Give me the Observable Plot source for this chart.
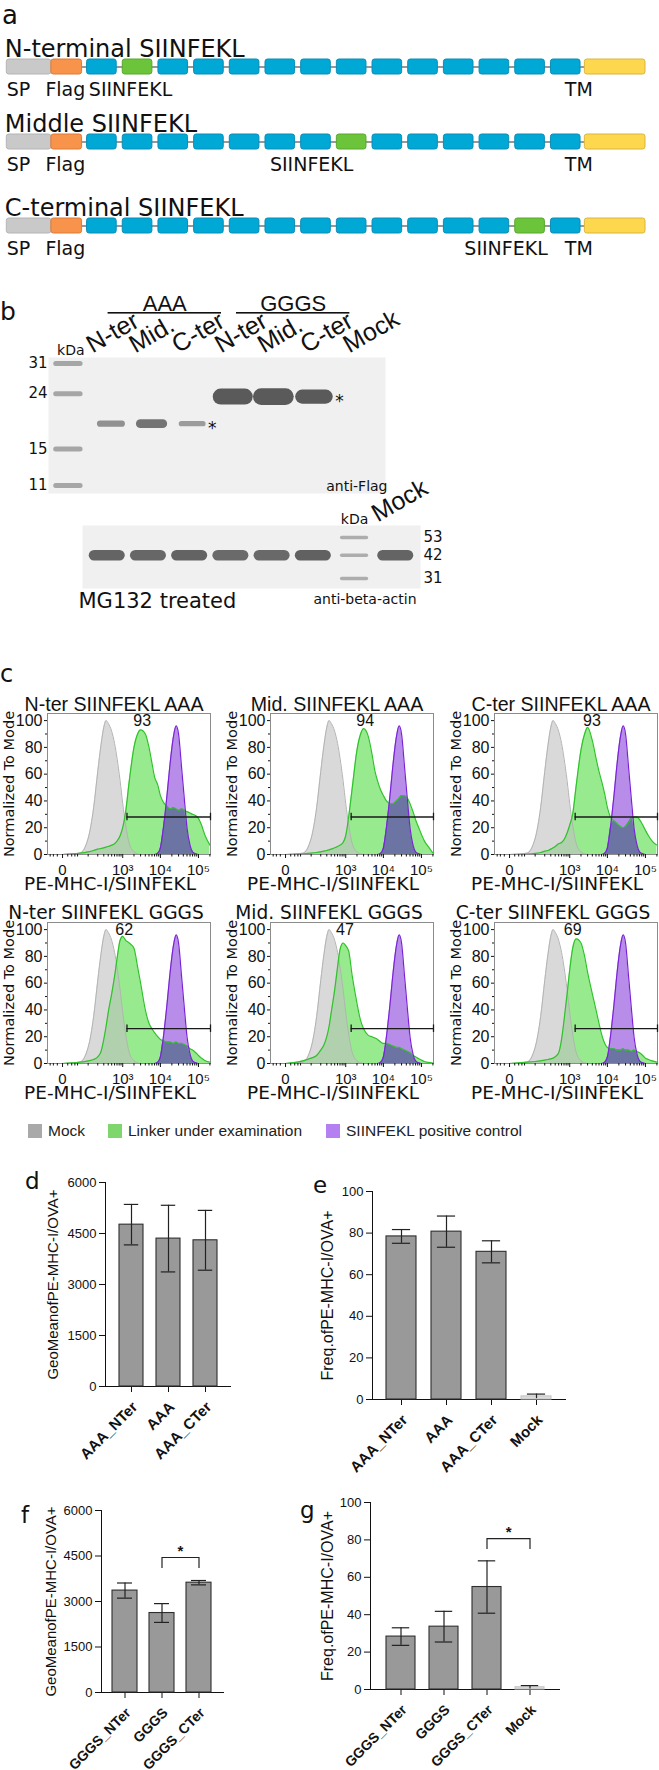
<!DOCTYPE html>
<html>
<head>
<meta charset="utf-8">
<script src="https://cdn.jsdelivr.net/npm/d3@7"></script>
<script src="https://cdn.jsdelivr.net/npm/@observablehq/plot@0.6"></script>
<style>
  html, body { margin: 0; padding: 0; background: #fff; }
  #fig { position: relative; width: 659px; height: 1770px; overflow: hidden; background: #fff; }
  #fig > * { position: absolute; }
  #fig svg { overflow: visible; }
</style>
</head>
<body>
<div id="fig"></div>
<script>
// ======================= DATA =======================
// ---- Panel a: constructs ----
const constructNames = ["N-terminal SIINFEKL", "Middle SIINFEKL", "C-terminal SIINFEKL"];
const siinfeklRepeatIndex = [1, 7, 12];          // which of the 14 repeats carries SIINFEKL
const repeatCount = 14;
const spLength = 1.25, flagLength = 0.86, repeatLength = 0.83, tmLength = 1.7; // in repeat units

// ---- Panel b: western blots ----
const laneLabels = ["N-ter", "Mid.", "C-ter", "N-ter", "Mid.", "C-ter", "Mock"];
const linkerGroups = ["AAA", "GGGS"];
const flagLadderKda = [31, 24, 15, 11];
const flagBandKda = [18.6, 18.6, 18.6, 23.4, 23.4, 23.4];   // lanes 1..6 (Mock empty)
const flagBandSignal = [0.25, 0.45, 0.18, 1.0, 1.05, 0.85];
const flagAsteriskLanes = [3, 6];
const actinLadderKda = [53, 42, 31];
const actinBandKda = 42;
const actinBandSignal = [0.9, 0.85, 0.92, 0.8, 0.82, 0.95, null, 0.9]; // 6 samples, ladder, Mock

// ---- Panel c: flow histograms (% of mode) ----
const histX = [0, 50, 100, 150, 200, 250, 300, 350, 400, 500, 600, 700, 850, 1000, 1200, 1500, 2000, 2500, 3000, 4000,
  5000, 6000, 7000, 8500, 10000, 12000, 15000, 18000, 22000, 26000, 30000, 36000, 43000, 50000, 60000, 70000, 85000,
  100000, 120000, 150000, 200000];
const mockY = [0, 1, 12, 35, 62, 82, 95, 100, 98, 92, 83, 72, 55, 38, 22, 8, 2, 0.5, 0, 0,
  0, 0, 0, 0, 0, 0, 0, 0, 0, 0, 0, 0, 0, 0, 0, 0, 0, 0, 0, 0, 0];
const positiveY = [0, 0, 0, 0, 0, 0, 0, 0, 0, 0, 0, 0, 0, 0, 0, 0, 0, 0, 0, 0,
  0, 0, 0, 1, 5, 20, 45, 68, 88, 96, 90, 65, 40, 20, 7, 2, 0.5, 0, 0, 0, 0];
const greenNterAAA = [0, 1, 2, 3, 4, 4.5, 5, 5.5, 6, 7, 8, 10, 14, 20, 32, 55, 80, 90, 93, 90,
  80, 68, 58, 52, 44, 39, 36, 34, 35, 34, 33, 34, 33, 32, 31, 30, 29, 27, 22, 14, 7];
const greenMidAAA = [0, 0.5, 1, 1.5, 2, 2.5, 3, 3.5, 4, 5, 6, 7, 9, 14, 28, 50, 78, 90, 94, 88,
  75, 62, 55, 48, 44, 40, 38, 38, 40, 42, 44, 44, 42, 38, 32, 26, 20, 15, 10, 6, 1];
const greenCterAAA = [0, 0.3, 0.8, 1.5, 2.5, 3, 4, 5, 6, 8, 9, 11, 16, 22, 30, 52, 78, 90, 95, 85,
  72, 62, 55, 45, 35, 28, 25, 23, 21, 20, 21, 24, 27, 28, 28, 26, 22, 18, 14, 10, 7];
const greenNterGGGS = [0, 1, 2, 3, 5, 9, 18, 28, 38, 52, 65, 78, 92, 95, 92, 90, 86, 72, 60, 40,
  30, 26, 23, 20, 18, 17, 16, 16, 15, 16, 15, 15, 14, 13, 11, 10, 8, 6, 4, 2, 1];
const greenMidGGGS = [0, 2, 4, 6, 10, 14, 20, 28, 38, 55, 72, 85, 90, 88, 84, 65, 45, 32, 26, 21,
  20, 19, 18, 16, 15, 15, 14, 13, 12, 12, 11, 10, 9, 8, 6, 5, 3.5, 2.5, 1.5, 0.8, 0.3];
const greenCterGGGS = [0, 1, 1.5, 2, 2.5, 3, 3.5, 4, 5, 8, 18, 32, 52, 70, 86, 93, 90, 80, 68, 52,
  40, 30, 22, 15, 12, 11, 11, 10, 10, 11, 10, 10, 9, 10, 9, 8, 6, 4, 3, 2, 1];
const flowGreen = [greenNterAAA, greenMidAAA, greenCterAAA, greenNterGGGS, greenMidGGGS, greenCterGGGS];
const flowTitles = ["N-ter SIINFEKL AAA", "Mid. SIINFEKL AAA", "C-ter SIINFEKL AAA",
  "N-ter SIINFEKL GGGS", "Mid. SIINFEKL GGGS", "C-ter SIINFEKL GGGS"];
const flowPercent = [93, 94, 93, 62, 47, 69];
const flowPercentX = [3300, 3300, 3900, 1100, 950, 1200];
const flowGateStart = [1300, 1400, 1400, 1300, 1400, 1400];
const flowGateY = [28, 28, 28, 26, 26, 26];
const flowXDomain = [-40, 207000];
const flowTicks = [0, 1000, 10000, 100000];
const flowTickLabels = ["0", "10³", "10⁴", "10⁵"];
const flowYTicks = [0, 20, 40, 60, 80, 100];
const flowXLabel = "PE-MHC-I/SIINFEKL";
const flowYLabel = "Normalized To Mode";
const legendLabels = ["Mock", "Linker under examination", "SIINFEKL positive control"];
const legendColors = ["#a9a9a9", "#7fd66c", "#b47ff0"];

// ---- Panels d-g: bar charts (mean, SD) ----
const dNames = ["AAA_NTer", "AAA", "AAA_CTer"];
const dMean = [4760, 4350, 4300];
const dSd = [595, 980, 880];
const eNames = ["AAA_NTer", "AAA", "AAA_CTer", "Mock"];
const eMean = [78.4, 80.7, 71.0, 1.5];
const eSd = [3.3, 7.5, 5.3, 1.1];
const fNames = ["GGGS_NTer", "GGGS", "GGGS_CTer"];
const fMean = [3360, 2620, 3620];
const fSd = [250, 310, 72];
const gNames = ["GGGS_NTer", "GGGS", "GGGS_CTer", "Mock"];
const gMean = [28.3, 33.6, 54.8, 1.2];
const gSd = [4.7, 8.2, 14.0, 0.9];
const fSig = [{from: "GGGS", to: "GGGS_CTer", y: 4450, drop: 360, label: "*"}];
const gSig = [{from: "GGGS_CTer", to: "Mock", y: 80.7, drop: 5.8, label: "*"}];
const geoLabel = "GeoMeanofPE-MHC-I/OVA+";
const freqLabel = "Freq.ofPE-MHC-I/OVA+";

// ======================= HELPERS =======================
const DJV = "'DejaVu Sans', sans-serif";
const LIB = "'Liberation Sans', Arial, sans-serif";
const fig = document.getElementById("fig");
function put(node, left, top) {
  node.style.position = "absolute";
  node.style.left = left + "px";
  node.style.top = top + "px";
  fig.appendChild(node);
  return node;
}
function htmlText(str, left, baseline, size, family, color) {
  const d = document.createElement("div");
  d.textContent = str;
  d.style.fontFamily = family;
  d.style.fontSize = size + "px";
  d.style.lineHeight = "1";
  d.style.whiteSpace = "nowrap";
  d.style.color = color || "#111";
  return put(d, left, baseline - 0.846 * size);
}
const panelLetter = (ch, left, baseline, size) => htmlText(ch, left, baseline, size, DJV);
const st = (size, family) => ({fontFamily: family, fontSize: size + "px", background: "none", overflow: "visible", color: "#111"});
let blurCount = 0;
function blur(svg, label, sd) {
  const id = "blurf" + (blurCount++);
  const root = d3.select(svg);
  const f = root.insert("defs", ":first-child").append("filter").attr("id", id)
    .attr("x", "-30%").attr("y", "-150%").attr("width", "160%").attr("height", "400%");
  f.append("feGaussianBlur").attr("stdDeviation", sd);
  root.selectAll(`g[aria-label="${label}"]`).attr("filter", `url(#${id})`);
}
const bandShade = s => d3.interpolateRgb("#b6b6b6", "#5a5a5a")(Math.min(1, s * 1.6));

// ======================= PANEL a =======================
panelLetter("a", 2, 24, 26);
const repeat0 = spLength + flagLength + 0.14;
const tmStart = repeat0 + (repeatCount - 1) + repeatLength + 0.12;
const segFill = {SP: "#c9c9c9", Flag: "#f8934b", repeat: "#00a8d6", SIINFEKL: "#6cc43b", TM: "#fdd84f"};
const segStroke = {SP: "#b4b4b4", Flag: "#dd7b37", repeat: "#0a8db6", SIINFEKL: "#56a82b", TM: "#d9b53c"};
const aX = [6.3, 645];
const pxPerUnit = (aX[1] - aX[0]) / (tmStart + tmLength);
const siinfeklShiftPx = [-7, -40, -24];
const aRowCenter = [66, 141, 225];
constructNames.forEach((name, r) => {
  const segs = [
    {type: "SP", start: 0, end: spLength},
    {type: "Flag", start: spLength, end: spLength + flagLength}
  ];
  for (let i = 0; i < repeatCount; i++) {
    const s = repeat0 + i;
    segs.push({type: i === siinfeklRepeatIndex[r] ? "SIINFEKL" : "repeat", start: s, end: s + repeatLength});
  }
  segs.push({type: "TM", start: tmStart, end: tmStart + tmLength});
  segs.forEach(d => { d.construct = name; });
  const startLabels = [
    {construct: name, text: "SP", x: 0},
    {construct: name, text: "Flag", x: spLength - 6 / pxPerUnit},
    {construct: name, text: "TM", x: tmStart - 20 / pxPerUnit}
  ];
  const sLabel = [{construct: name, text: "SIINFEKL",
    x: repeat0 + siinfeklRepeatIndex[r] + repeatLength / 2 + siinfeklShiftPx[r] / pxPerUnit}];
  put(Plot.plot({
    width: 659, height: 90, margin: 0,
    style: st(19, DJV),
    x: {domain: [0, tmStart + tmLength], range: aX, axis: null},
    y: {type: "band", domain: [name], range: [40.5, 55.5], padding: 0, axis: null},
    color: {type: "identity"},
    marks: [
      Plot.ruleY([name], {y: d => d, x1: spLength + flagLength, x2: tmStart, stroke: "#333", strokeWidth: 1.2}),
      Plot.barX(segs, {x1: "start", x2: "end", y: "construct", fill: d => segFill[d.type], stroke: d => segStroke[d.type], strokeWidth: 1, rx: 2.5}),
      Plot.text([name], {y: d => d, x: 0, text: d => d, textAnchor: "start", lineAnchor: "bottom", dx: -2, dy: -10.5, fontSize: 24, fontFamily: DJV}),
      Plot.text(startLabels, {y: "construct", x: "x", text: "text", textAnchor: "start", lineAnchor: "bottom", dy: 29, fontSize: 19, fontFamily: DJV}),
      Plot.text(sLabel, {y: "construct", x: "x", text: "text", textAnchor: "middle", lineAnchor: "bottom", dy: 29, fontSize: 19, fontFamily: DJV})
    ]
  }), 0, aRowCenter[r] - 48);
});

// ======================= PANEL b =======================
panelLetter("b", 0, 320, 25);
const groupData = linkerGroups.map((g, k) => ({group: g, first: 1 + 3 * k, last: 3 + 3 * k}));
const laneLabelData = laneLabels.map((t, i) => ({lane: i + 1, text: t}));
put(Plot.plot({
  width: 659, height: 80, marginTop: 32, marginBottom: 46.4, marginLeft: 0, marginRight: 0,
  style: st(22, LIB),
  x: {domain: [1, 7], range: [111, 367.8], axis: null},
  marks: [
    Plot.barX(groupData, {x1: d => d.first - 0.08, x2: d => d.last + 0.57, fill: "#111"}),
    Plot.text(groupData, {x: d => (d.first + d.last) / 2 + 0.245, text: "group", frameAnchor: "top", textAnchor: "middle", lineAnchor: "bottom", dy: -2, fontSize: 22, fontFamily: LIB}),
    Plot.text(laneLabelData, {x: "lane", text: "text", frameAnchor: "bottom", rotate: -30, textAnchor: "start", lineAnchor: "bottom", dx: -19, dy: 39.4, fontSize: 25, fontFamily: LIB})
  ]
}), 0, 280);

// upper blot (anti-Flag)
const LANE_PX = 40.6;
const flagBands = flagBandKda.map((k, i) => ({lane: i + 1, kda: k, signal: flagBandSignal[i]}));
const flagHwPx = d => 12 + 8 * d.signal;
const flagSw = d => 3 + 13 * d.signal;
const flagCore = d => Math.max(1, flagHwPx(d) - flagSw(d) / 2) / LANE_PX;
const b1 = Plot.plot({
  width: 659, height: 175, marginTop: 27, marginBottom: 12, marginLeft: 48, marginRight: 274,
  style: st(15, DJV),
  x: {domain: [-0.55, 7.75], axis: null},
  y: {type: "log", domain: [31, 11], range: [33, 155], axis: null},
  color: {type: "identity"},
  marks: [
    Plot.frame({fill: "#f0f0f0", stroke: "none"}),
    Plot.ruleY(flagLadderKda, {y: d => d, x1: -0.36, x2: 0.24, stroke: "#a6a6a6", strokeWidth: 5, strokeLinecap: "round", ariaLabel: "ladder"}),
    Plot.ruleY(flagBands, {y: "kda", x1: d => d.lane - flagCore(d), x2: d => d.lane + flagCore(d), stroke: d => bandShade(d.signal), strokeWidth: flagSw, strokeLinecap: "round", ariaLabel: "band"}),
    Plot.text(flagBands.filter(d => flagAsteriskLanes.includes(d.lane)), {x: d => d.lane + flagHwPx(d) / LANE_PX, y: "kda", text: () => "*", textAnchor: "start", lineAnchor: "middle", dx: 2, dy: 5, fontSize: 17, fontFamily: DJV}),
    Plot.text(flagLadderKda, {y: d => d, text: d => String(d), frameAnchor: "left", textAnchor: "end", lineAnchor: "middle", dx: -1, fontSize: 15, fontFamily: DJV}),
    Plot.text(["kDa"], {x: 0, text: d => d, frameAnchor: "top", textAnchor: "middle", lineAnchor: "bottom", dy: -3, fontSize: 14, fontFamily: DJV}),
    Plot.text(["anti-Flag"], {text: d => d, frameAnchor: "bottom-right", textAnchor: "end", lineAnchor: "bottom", dx: 2, dy: -3, fontSize: 14, fontFamily: DJV})
  ]
});
blur(b1, "ladder", 1.2);
blur(b1, "band", 1.4);
put(b1, 0, 330);

// lower blot (anti-beta-actin)
const ACTIN_LANE_PX = 41.2;
const actinBands = actinBandSignal.map((s, i) => ({lane: i, signal: s})).filter(d => d.signal !== null);
const actinCore = (18 - 5.25) / ACTIN_LANE_PX;
const b2 = Plot.plot({
  width: 659, height: 120, marginTop: 25, marginBottom: 32, marginLeft: 82, marginRight: 239,
  style: st(15, DJV),
  x: {domain: [-0.6, 7.6], axis: null},
  y: {type: "log", domain: [53, 31], range: [37, 78], axis: null},
  color: {type: "identity"},
  marks: [
    Plot.frame({fill: "#f0f0f0", stroke: "none"}),
    Plot.ruleY(actinLadderKda, {y: d => d, x1: 6 - 0.3, x2: 6 + 0.3, stroke: "#adadad", strokeWidth: 3.5, strokeLinecap: "round", ariaLabel: "ladder"}),
    Plot.ruleY(actinBands, {y: () => actinBandKda, x1: d => d.lane - actinCore, x2: d => d.lane + actinCore, stroke: d => d3.interpolateRgb("#9a9a9a", "#5e5e5e")(d.signal), strokeWidth: 10.5, strokeLinecap: "round", ariaLabel: "band"}),
    Plot.text(actinLadderKda, {y: d => d, text: d => String(d), frameAnchor: "right", textAnchor: "start", lineAnchor: "middle", dx: 3, fontSize: 15, fontFamily: DJV}),
    Plot.text(["kDa"], {x: 6, text: d => d, frameAnchor: "top", textAnchor: "middle", lineAnchor: "bottom", dy: -2, fontSize: 14, fontFamily: DJV}),
    Plot.text(["Mock"], {x: 7, text: d => d, frameAnchor: "top", rotate: -30, textAnchor: "start", lineAnchor: "bottom", dx: -18, dy: -3, fontSize: 25, fontFamily: LIB}),
    Plot.text(["MG132 treated"], {text: d => d, frameAnchor: "bottom-left", textAnchor: "start", lineAnchor: "bottom", dx: -4, dy: 19, fontSize: 21, fontFamily: DJV}),
    Plot.text(["anti-beta-actin"], {text: d => d, frameAnchor: "bottom-right", textAnchor: "end", lineAnchor: "bottom", dx: -4, dy: 15, fontSize: 14, fontFamily: DJV})
  ]
});
blur(b2, "ladder", 1.1);
blur(b2, "band", 1.5);
put(b2, 0, 500);

// ======================= PANEL c =======================
panelLetter("c", 0, 682, 24);
const flowColLeft = [47, 270, 494];
const flowRowTop = [713, 922];
const FLOW_H = 141;
const flowMinorX = [-30, -20, -10, 10, 20, 30, 40]
  .concat(d3.range(100, 1000, 100), d3.range(2000, 10000, 1000), d3.range(20000, 100000, 10000), [200000]);
const flowMinorY = [10, 30, 50, 70, 90];
const fmtFlow = d => flowTickLabels[flowTicks.indexOf(d)];
const hasAxisMarks = typeof Plot.axisX === "function";
for (let k = 0; k < 6; k++) {
  const r = Math.floor(k / 3), c = k % 3;
  const green = flowGreen[k];
  const rows = histX.map((x, i) => ({x, mock: mockY[i], linker: green[i], pos: positiveY[i]}));
  rows.forEach(d => { d.both = Math.min(d.linker, d.pos); });
  const gate = [{x1: flowGateStart[k], x2: flowXDomain[1], y: flowGateY[k]}];
  const gateEnds = [{x: gate[0].x1, y: gate[0].y}, {x: gate[0].x2, y: gate[0].y}];
  const curve = "monotone-x";
  const axes = hasAxisMarks ? [
    Plot.axisX(flowTicks, {tickFormat: fmtFlow, tickSize: 4, tickPadding: 5.5, fontSize: 15, fontFamily: LIB, label: null}),
    Plot.axisX(flowMinorX, {tickSize: 2.5, tickFormat: () => null, label: null}),
    Plot.axisY(flowYTicks, {tickSize: 3, tickPadding: 2, fontSize: 16, fontFamily: LIB, label: null}),
    Plot.axisY(flowMinorY, {tickSize: 2, tickFormat: () => null, label: null})
  ] : [];
  const svg = Plot.plot({
    width: 212, height: 28 + FLOW_H + 48, marginLeft: 47, marginRight: 2, marginTop: 28, marginBottom: 48,
    style: st(16, LIB),
    x: {type: "symlog", constant: 27, domain: flowXDomain, ticks: flowTicks, tickFormat: fmtFlow, tickSize: 4, tickPadding: 5.5, label: null},
    y: {domain: [0, 105.3], ticks: flowYTicks, tickSize: 3, tickPadding: 2, label: null},
    marks: [
      Plot.areaY(rows, {x: "x", y: "linker", fill: "#97ea8e", curve}),
      Plot.areaY(rows, {x: "x", y: "mock", fill: "#c2c2c2", fillOpacity: 0.62, curve}),
      Plot.areaY(rows, {x: "x", y: "pos", fill: "#b88de9", curve}),
      Plot.areaY(rows, {x: "x", y: "both", fill: "#6b74a3", curve}),
      Plot.lineY(rows, {x: "x", y: "mock", stroke: "#b3b3b3", strokeWidth: 1, curve}),
      Plot.lineY(rows, {x: "x", y: "linker", stroke: "#2fc22a", strokeWidth: 1.2, curve}),
      Plot.lineY(rows, {x: "x", y: "pos", stroke: "#7a23d4", strokeWidth: 1.2, curve}),
      Plot.frame({stroke: "#8c8c8c"}),
      ...axes,
      Plot.ruleY(gate, {y: "y", x1: "x1", x2: "x2", stroke: "#1a1a1a", strokeWidth: 1.3}),
      Plot.ruleX(gateEnds, {x: "x", y1: d => d.y - 2.8, y2: d => d.y + 2.8, stroke: "#1a1a1a", strokeWidth: 1.3}),
      Plot.text([flowPercent[k]], {x: flowPercentX[k], text: d => String(d), frameAnchor: "top", textAnchor: "middle", lineAnchor: "middle", dy: 7.5, fontSize: 16, fontFamily: LIB}),
      Plot.text([flowTitles[k]], {text: d => d, frameAnchor: "top", textAnchor: "middle", dx: r === 0 ? -15 : -23, dy: r === 0 ? -3 : -4, lineAnchor: "bottom",
        fontSize: r === 0 ? 19.6 : 18.6, fontFamily: r === 0 ? LIB : DJV}),
      Plot.text([flowYLabel], {text: d => d, frameAnchor: "left", textAnchor: "middle", lineAnchor: "middle", rotate: -90, dx: -38, fontSize: 14.5, fontFamily: DJV}),
      Plot.text([flowXLabel], {text: d => d, frameAnchor: "bottom", textAnchor: "middle", dx: -19, dy: 35, lineAnchor: "bottom", fontSize: 18.5, fontFamily: DJV})
    ]
  });
  put(svg, flowColLeft[c] - 47, flowRowTop[r] - 28);
}
// legend (below the histograms)
const legendX = [28, 108, 326];
const legendY = 1131;
legendLabels.forEach((lab, i) => {
  const sw = document.createElement("div");
  sw.style.width = "14px";
  sw.style.height = "14px";
  sw.style.background = legendColors[i];
  put(sw, legendX[i], legendY - 7);
  htmlText(lab, legendX[i] + 20, legendY + 5.5, 15.5, LIB, "#222");
});

// ======================= PANELS d-g =======================
function barPanel(cfg) {
  const rows = cfg.names.map((n, i) => ({name: n, mean: cfg.mean[i], sd: cfg.sd[i], isMock: n === "Mock"}));
  const frameW = cfg.width - cfg.ml - cfg.mr;
  const step = frameW / (cfg.names.length - cfg.pi + 2 * cfg.po);
  const bw = step * (1 - cfg.pi);
  const cap = bw * 0.2;
  const marks = [
    Plot.barY(rows, {x: "name", y: "mean", fill: d => d.isMock ? "#dcdcdc" : "#999999", stroke: d => d.isMock ? "#c6c6c6" : "#2e2e2e", strokeWidth: 1.1}),
    Plot.ruleX(rows, {x: "name", y1: d => d.mean - d.sd, y2: d => d.mean + d.sd, stroke: "#222", strokeWidth: 1.2}),
    Plot.tickY(rows, {x: "name", y: d => d.mean + d.sd, insetLeft: cap, insetRight: cap, stroke: "#222", strokeWidth: 1.2}),
    Plot.tickY(rows.filter(d => !d.isMock), {x: "name", y: d => d.mean - d.sd, insetLeft: cap, insetRight: cap, stroke: "#222", strokeWidth: 1.2}),
    Plot.text([cfg.yLabel], {text: d => d, frameAnchor: "left", textAnchor: "middle", lineAnchor: "middle", rotate: -90, dx: cfg.yLabelDx, fontSize: cfg.yLabelSize, fontFamily: LIB}),
    Plot.text(cfg.names, {x: d => d, text: d => d, frameAnchor: "bottom", rotate: -45, textAnchor: "end", lineAnchor: "middle", dx: 3.5, dy: 18,
      fontWeight: "bold", fontSize: cfg.xLabelSize, fontFamily: LIB})
  ];
  if (cfg.sig) {
    const ends = cfg.sig.flatMap(s => [{x: s.from, y1: s.y - s.drop, y2: s.y}, {x: s.to, y1: s.y - s.drop, y2: s.y}]);
    marks.push(
      Plot.link(cfg.sig, {x1: "from", x2: "to", y1: "y", y2: "y", stroke: "#222", strokeWidth: 1.2}),
      Plot.ruleX(ends, {x: "x", y1: "y1", y2: "y2", stroke: "#222", strokeWidth: 1.2}),
      Plot.text(cfg.sig, {x: "from", y: "y", text: "label", textAnchor: "middle", dx: step / 2, dy: -2, lineAnchor: "bottom", fontSize: 15, fontWeight: "bold", fontFamily: LIB})
    );
  }
  const svg = Plot.plot({
    width: cfg.width, height: cfg.height,
    marginLeft: cfg.ml, marginRight: cfg.mr, marginTop: cfg.mt, marginBottom: cfg.mb,
    style: st(13, LIB),
    color: {type: "identity"},
    x: {type: "band", domain: cfg.names, paddingInner: cfg.pi, paddingOuter: cfg.po, tickSize: 6, tickFormat: () => "", line: true, label: null},
    y: {domain: cfg.yDomain, ticks: cfg.yTicks, tickFormat: d => String(d), tickSize: 6, tickPadding: 3, line: true, label: null},
    marks
  });
  put(svg, cfg.left, cfg.top);
}
panelLetter("d", 25, 1189, 23);
panelLetter("e", 313, 1193, 23);
panelLetter("f", 21, 1523, 23);
panelLetter("g", 300, 1518, 23);
barPanel({names: dNames, mean: dMean, sd: dSd, yDomain: [0, 6000], yTicks: [0, 1500, 3000, 4500, 6000],
  yLabel: geoLabel, yLabelDx: -52, yLabelSize: 15, xLabelSize: 15,
  left: 0, top: 1162, width: 240, height: 292, ml: 105, mr: 10, mt: 20, mb: 68, pi: 0.36, po: 0.347});
barPanel({names: eNames, mean: eMean, sd: eSd, yDomain: [0, 100], yTicks: [0, 20, 40, 60, 80, 100],
  yLabel: freqLabel, yLabelDx: -45, yLabelSize: 16, xLabelSize: 15,
  left: 300, top: 1171, width: 280, height: 290, ml: 72, mr: 15, mt: 20, mb: 62, pi: 0.344, po: 0.316});
barPanel({names: fNames, mean: fMean, sd: fSd, yDomain: [0, 6000], yTicks: [0, 1500, 3000, 4500, 6000],
  yLabel: geoLabel, yLabelDx: -50, yLabelSize: 15, xLabelSize: 14, sig: fSig,
  left: 0, top: 1490, width: 240, height: 280, ml: 101, mr: 17, mt: 20, mb: 78, pi: 0.324, po: 0.31});
barPanel({names: gNames, mean: gMean, sd: gSd, yDomain: [0, 100], yTicks: [0, 20, 40, 60, 80, 100],
  yLabel: freqLabel, yLabelDx: -43, yLabelSize: 16, xLabelSize: 14, sig: gSig,
  left: 300, top: 1482, width: 280, height: 288, ml: 70, mr: 21, mt: 20, mb: 81, pi: 0.33, po: 0.35});
</script>
</body>
</html>
